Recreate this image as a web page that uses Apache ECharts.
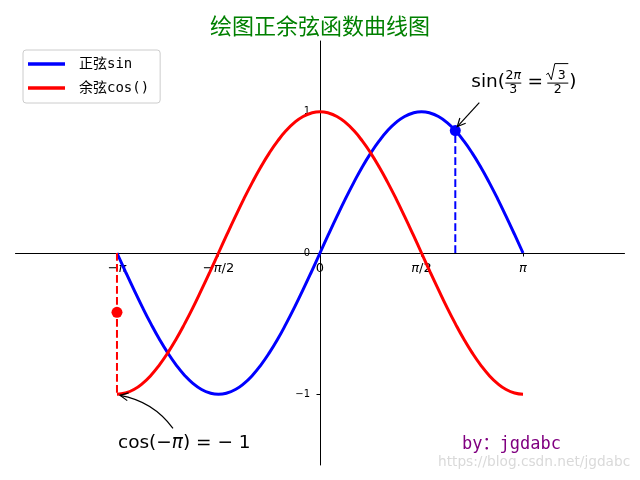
<!DOCTYPE html>
<html>
<head>
<meta charset="utf-8">
<script src="https://cdn.jsdelivr.net/npm/echarts@6/dist/echarts.min.js"></script>
<style>
  html, body { margin: 0; padding: 0; background: #ffffff; }
  #chart { width: 640px; height: 480px; }
</style>
</head>
<body>
<div id="chart"></div>
<script>
// Sample positions along x (radians, step π/24) and the two curves read at those positions
const xs = [-3.142, -3.011, -2.880, -2.749, -2.618, -2.487, -2.356, -2.225, -2.094, -1.963, -1.833, -1.702,
            -1.571, -1.440, -1.309, -1.178, -1.047, -0.916, -0.785, -0.654, -0.524, -0.393, -0.262, -0.131,
            0, 0.131, 0.262, 0.393, 0.524, 0.654, 0.785, 0.916, 1.047, 1.178, 1.309, 1.440,
            1.571, 1.702, 1.833, 1.963, 2.094, 2.225, 2.356, 2.487, 2.618, 2.749, 2.880, 3.011, 3.142];
const sinValues = [0, -0.131, -0.259, -0.383, -0.5, -0.609, -0.707, -0.793, -0.866, -0.924, -0.966, -0.991,
                   -1, -0.991, -0.966, -0.924, -0.866, -0.793, -0.707, -0.609, -0.5, -0.383, -0.259, -0.131,
                   0, 0.131, 0.259, 0.383, 0.5, 0.609, 0.707, 0.793, 0.866, 0.924, 0.966, 0.991,
                   1, 0.991, 0.966, 0.924, 0.866, 0.793, 0.707, 0.609, 0.5, 0.383, 0.259, 0.131, 0];
const cosValues = [-1, -0.991, -0.966, -0.924, -0.866, -0.793, -0.707, -0.609, -0.5, -0.383, -0.259, -0.131,
                   0, 0.131, 0.259, 0.383, 0.5, 0.609, 0.707, 0.793, 0.866, 0.924, 0.966, 0.991,
                   1, 0.991, 0.966, 0.924, 0.866, 0.793, 0.707, 0.609, 0.5, 0.383, 0.259, 0.131,
                   0, -0.131, -0.259, -0.383, -0.5, -0.609, -0.707, -0.793, -0.866, -0.924, -0.966, -0.991, -1];

// Highlighted points
const sinMark = [2.094, 0.866];   // sin(2π/3) = √3/2
const cosMark = [-3.142, -1];     // cos(−π) = −1
const redDot = [-3.142, -0.42];

// Axis ranges and ticks
const xRange = [-1.5 * Math.PI, 1.5 * Math.PI];
const yRange = [-1.5, 1.5];
const xTickValues = [-Math.PI, -Math.PI / 2, 0, Math.PI / 2, Math.PI];
const xTickLabels = ['−{i|π}', '−{i|π}/2', '0', '{i|π}/2', '{i|π}'];
const yTickValues = [-1, 0, 1];
const yTickLabels = ['−1', '0', '1'];

const seriesNames = ['正弦sin', '余弦cos()'];
const titleText = '绘图正余弦函数曲线图';
const signText = 'by：jgdabc';
const siteText = 'https://blog.csdn.net/jgdabc';

const BLUE = '#0000ff';
const RED = '#ff0000';
const MATH_FONT = '"DejaVu Sans", sans-serif';
const MONO_CJK = '"DejaVu Sans Mono", "Noto Sans CJK SC", monospace';

const pairs = (xv, yv) => xv.map((x, i) => [x, yv[i]]);
const tickLabel = (values, labels) => (v) => {
  let best = 0;
  values.forEach((t, i) => { if (Math.abs(t - v) < Math.abs(values[best] - v)) best = i; });
  return labels[best];
};

const chart = echarts.init(document.getElementById('chart'), null, { renderer: 'canvas' });

const option = {
  animation: false,
  backgroundColor: '#ffffff',
  title: {
    text: titleText,
    left: 'center',
    top: 15,
    padding: 0,
    textStyle: { color: '#008000', fontSize: 22, fontWeight: 'normal', fontFamily: '"Noto Sans CJK SC", sans-serif' }
  },
  legend: {
    data: seriesNames,
    orient: 'vertical',
    left: 23,
    top: 50,
    padding: [6, 11, 7, 5],
    itemGap: 8,
    itemWidth: 37,
    itemHeight: 3.5,
    icon: 'rect',
    backgroundColor: '#ffffff',
    borderColor: '#cccccc',
    borderWidth: 1,
    borderRadius: 3,
    textStyle: { fontSize: 14, lineHeight: 16, color: '#000000', fontFamily: MONO_CJK, padding: [0, 0, 0, 9] }
  },
  grid: { left: 15.5, right: 15.5, top: 41, bottom: 15, containLabel: false, outerBoundsMode: 'none' },
  xAxis: {
    type: 'value',
    min: xRange[0],
    max: xRange[1],
    position: 'bottom',
    offset: 0,
    axisLine: { onZero: false, lineStyle: { color: '#000000', width: 1 } },
    axisTick: { show: true, length: 3.5, inside: false, customValues: xTickValues, lineStyle: { color: '#000000' } },
    axisLabel: {
      customValues: xTickValues,
      margin: 9,
      color: '#000000',
      fontSize: 13,
      fontFamily: MATH_FONT,
      formatter: tickLabel(xTickValues, xTickLabels),
      rich: { i: { fontStyle: 'italic', fontSize: 13, fontFamily: MATH_FONT, color: '#000000' } }
    },
    splitLine: { show: false }
  },
  yAxis: {
    type: 'value',
    min: yRange[0],
    max: yRange[1],
    position: 'left',
    offset: 0,
    axisLine: { show: true, onZero: false, lineStyle: { color: '#000000', width: 1 } },
    axisTick: { show: true, length: 3.5, inside: false, customValues: yTickValues, lineStyle: { color: '#000000' } },
    axisLabel: {
      customValues: yTickValues,
      margin: 10,
      color: '#000000',
      fontSize: 10,
      fontFamily: MATH_FONT,
      formatter: tickLabel(yTickValues, yTickLabels)
    },
    splitLine: { show: false }
  },
  series: [
    {
      name: seriesNames[0], type: 'line', data: pairs(xs, sinValues),
      smooth: 0.5, showSymbol: false, symbol: 'none', z: 2,
      itemStyle: { color: BLUE }, lineStyle: { color: BLUE, width: 3 }
    },
    {
      name: seriesNames[1], type: 'line', data: pairs(xs, cosValues),
      smooth: 0.5, showSymbol: false, symbol: 'none', z: 3,
      itemStyle: { color: RED }, lineStyle: { color: RED, width: 3 }
    },
    {
      name: 'sinGuide', type: 'line', data: [[sinMark[0], 0], sinMark],
      symbol: 'none', silent: true, z: 4,
      lineStyle: { color: BLUE, width: 2, type: [7.7, 3.3] }
    },
    {
      name: 'cosGuide', type: 'line', data: [[cosMark[0], 0], cosMark],
      symbol: 'none', silent: true, z: 4,
      lineStyle: { color: RED, width: 2, type: [7.7, 3.3] }
    },
    {
      name: 'sinPoint', type: 'scatter', data: [sinMark], symbolSize: 11, z: 5,
      itemStyle: { color: BLUE, opacity: 1 }
    },
    {
      name: 'redPoint', type: 'scatter', data: [redDot], symbolSize: 11, z: 5,
      itemStyle: { color: RED, opacity: 1 }
    }
  ]
};

chart.setOption(option);

// Move both axes (line, ticks and labels) so they cross at the origin
function centerAxes() {
  const corner = chart.convertToPixel({ gridIndex: 0 }, [xRange[0], yRange[0]]);
  const origin = chart.convertToPixel({ gridIndex: 0 }, [0, 0]);
  chart.setOption({
    xAxis: { offset: -(corner[1] - origin[1]) },
    yAxis: { offset: -(origin[0] - corner[0]) }
  });
}
centerAxes();

// ---- annotations (text, fractions and arrows) ----
function txt(text, x, y, size, align, extra) {
  return {
    type: 'text', x: x, y: y, z: 20,
    style: Object.assign({
      text: text, fill: '#000000', fontSize: size, fontFamily: MATH_FONT,
      align: align || 'left', verticalAlign: 'middle'
    }, extra || {})
  };
}
function seg(x1, y1, x2, y2, w) {
  return { type: 'line', z: 20, shape: { x1: x1, y1: y1, x2: x2, y2: y2 },
           style: { stroke: '#000000', lineWidth: w || 1 } };
}
function arrowHead(tip, from, len, angDeg) {
  const dx = tip[0] - from[0], dy = tip[1] - from[1];
  const d = Math.hypot(dx, dy) || 1;
  const ux = dx / d, uy = dy / d;
  const a = angDeg * Math.PI / 180;
  const rot = (s) => [ux * Math.cos(s * a) - uy * Math.sin(s * a), ux * Math.sin(s * a) + uy * Math.cos(s * a)];
  const r1 = rot(1), r2 = rot(-1);
  return { type: 'polyline', z: 20,
           shape: { points: [[tip[0] - len * r1[0], tip[1] - len * r1[1]], tip, [tip[0] - len * r2[0], tip[1] - len * r2[1]]] },
           style: { stroke: '#000000', fill: null, lineWidth: 1.2 } };
}

function buildNotes() {
  const P = chart.convertToPixel({ gridIndex: 0 }, sinMark);
  const Q = chart.convertToPixel({ gridIndex: 0 }, cosMark);
  const els = [];
  const piStyle = { fontStyle: 'italic', fontFamily: MATH_FONT, fill: '#000000' };

  // sin(2π/3 = √3/2)
  const tx = P[0] + 16, ty = P[1] - 48.5;
  els.push(txt('sin(', tx, ty, 18.5));
  els.push(txt('2{i|π}', tx + 42, ty - 6.5, 12.5, 'center', { rich: { i: Object.assign({ fontSize: 12.5 }, piStyle) } }));
  els.push(seg(tx + 34, ty + 1, tx + 50, ty + 1, 1));
  els.push(txt('3', tx + 42, ty + 7.5, 12.5, 'center'));
  els.push(txt('=', tx + 64, ty + 0.5, 18.5, 'center'));
  els.push({ type: 'polyline', z: 20,
             shape: { points: [[tx + 75, ty - 7.5], [tx + 77, ty - 9], [tx + 80, ty - 2.5], [tx + 83.5, ty - 18.5], [tx + 97, ty - 18.5]] },
             style: { stroke: '#000000', fill: null, lineWidth: 1 } });
  els.push(txt('3', tx + 90.5, ty - 6.5, 12.5, 'center'));
  els.push(seg(tx + 76, ty + 1, tx + 97, ty + 1, 1));
  els.push(txt('2', tx + 86.5, ty + 7.5, 12.5, 'center'));
  els.push(txt(')', tx + 98, ty, 18.5));

  // straight arrow to the sin point
  const s0 = [P[0] + 24, P[1] - 28], s1 = [P[0] + 2, P[1] - 4];
  els.push(seg(s0[0], s0[1], s1[0], s1[1], 1.2));
  els.push(arrowHead(s1, s0, 9, 26));

  // cos(−π) = −1 with curved arrow
  els.push(txt('cos(−{i|π}) = − 1', Q[0] + 1, Q[1] + 49, 18.5, 'left',
               { rich: { i: Object.assign({ fontSize: 18.5 }, piStyle) } }));
  const c0 = [Q[0] + 56, Q[1] + 34], c1 = [Q[0] + 3, Q[1] + 1];
  const mx = (c0[0] + c1[0]) / 2, my = (c0[1] + c1[1]) / 2;
  const ddx = c1[0] - c0[0], ddy = c1[1] - c0[1];
  const cp = [mx - 0.2 * ddy, my + 0.2 * ddx];
  els.push({ type: 'bezierCurve', z: 20,
             shape: { x1: c0[0], y1: c0[1], x2: c1[0], y2: c1[1], cpx1: cp[0], cpy1: cp[1] },
             style: { stroke: '#000000', fill: null, lineWidth: 1.2 } });
  els.push(arrowHead(c1, cp, 9, 26));

  // signature and site text
  els.push(txt(signText, 462, 444.5, 17, 'left', { fill: '#800080', fontFamily: MONO_CJK }));
  els.push(txt(siteText, 438, 462, 13.7, 'left', { fill: 'rgba(170,170,170,0.45)', fontFamily: MATH_FONT }));

  chart.setOption({ graphic: { elements: els } });
}
buildNotes();
</script>
</body>
</html>
